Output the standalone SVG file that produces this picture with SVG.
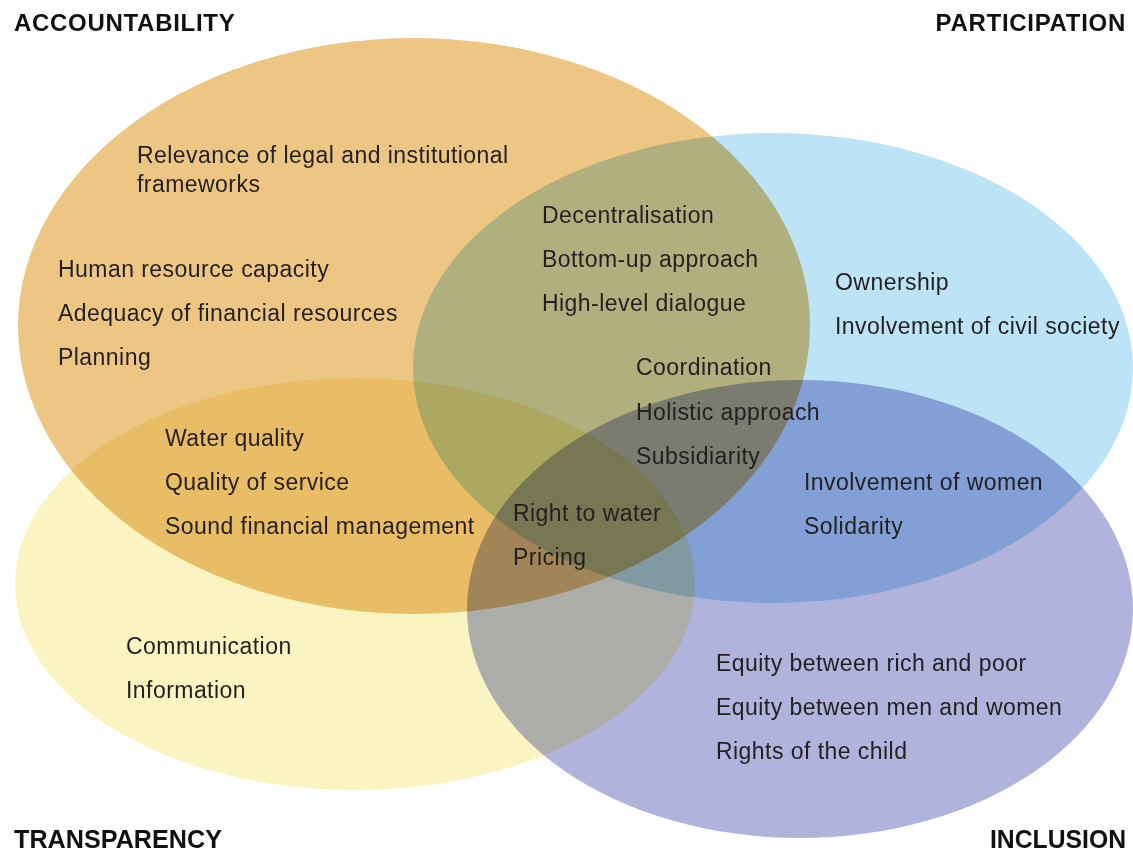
<svg xmlns="http://www.w3.org/2000/svg" width="1133" height="851" viewBox="0 0 1133 851">
<style>
.e{mix-blend-mode:multiply}
.t{font-family:"Liberation Sans",Arial,sans-serif;font-size:23px;letter-spacing:0.45px;fill:#231f20}
.h{font-family:"Liberation Sans",Arial,sans-serif;font-size:24px;font-weight:bold;letter-spacing:0.7px;fill:#111}
.c{font-family:"Liberation Sans",Arial,sans-serif;font-size:25px;font-weight:bold;fill:#111}
</style>
<rect width="1133" height="851" fill="#fff"/>
<g id="circles" style="isolation:isolate">
<g id="accountability"><ellipse class="e" cx="414" cy="326" rx="396" ry="288" fill="#EEC684"/></g>
<g id="participation"><ellipse class="e" cx="773" cy="368" rx="360" ry="235" fill="#BDE3F6"/></g>
<g id="transparency"><ellipse class="e" cx="355" cy="584" rx="340" ry="206" fill="#FAF4C2"/></g>
<g id="inclusion"><ellipse class="e" cx="800" cy="609" rx="333" ry="229" fill="#B0B4DD"/></g>
</g>
<g id="titles">
<text class="h" x="14" y="31">ACCOUNTABILITY</text>
<text class="h" x="1126" y="31" text-anchor="end">PARTICIPATION</text>
<text class="c" x="14" y="848" textLength="208" lengthAdjust="spacingAndGlyphs">TRANSPARENCY</text>
<text class="c" x="990" y="848" textLength="136" lengthAdjust="spacingAndGlyphs">INCLUSION</text>
</g>
<g id="labels">
<text class="t" x="137" y="163">Relevance of legal and institutional</text>
<text class="t" x="137" y="192">frameworks</text>
<text class="t" x="542" y="223">Decentralisation</text>
<text class="t" x="542" y="267">Bottom-up approach</text>
<text class="t" x="542" y="311">High-level dialogue</text>
<text class="t" x="58" y="277">Human resource capacity</text>
<text class="t" x="58" y="321">Adequacy of financial resources</text>
<text class="t" x="58" y="365">Planning</text>
<text class="t" x="835" y="290">Ownership</text>
<text class="t" x="835" y="334">Involvement of civil society</text>
<text class="t" x="636" y="375">Coordination</text>
<text class="t" x="636" y="420">Holistic approach</text>
<text class="t" x="636" y="464">Subsidiarity</text>
<text class="t" x="165" y="446">Water quality</text>
<text class="t" x="165" y="490">Quality of service</text>
<text class="t" x="165" y="534">Sound financial management</text>
<text class="t" x="513" y="521">Right to water</text>
<text class="t" x="513" y="565">Pricing</text>
<text class="t" x="804" y="490">Involvement of women</text>
<text class="t" x="804" y="534">Solidarity</text>
<text class="t" x="126" y="654">Communication</text>
<text class="t" x="126" y="698">Information</text>
<text class="t" x="716" y="671">Equity between rich and poor</text>
<text class="t" x="716" y="715">Equity between men and women</text>
<text class="t" x="716" y="759">Rights of the child</text>
</g>
</svg>
